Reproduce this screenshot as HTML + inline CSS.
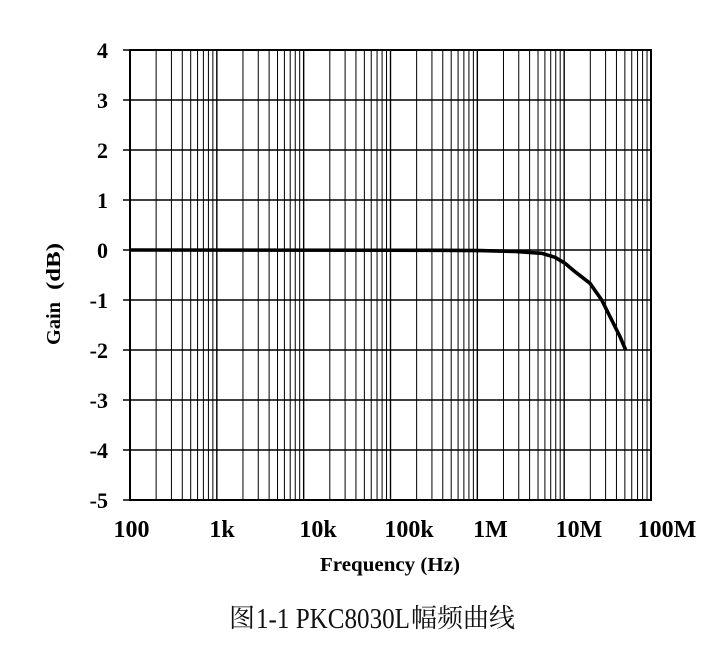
<!DOCTYPE html>
<html>
<head>
<meta charset="utf-8">
<style>
html,body{margin:0;padding:0;background:#fff;}
svg{display:block;}
</style>
</head>
<body>
<svg width="716" height="648" viewBox="0 0 716 648" xmlns="http://www.w3.org/2000/svg">
<rect x="0" y="0" width="716" height="648" fill="#fff"/>
<g stroke="#000" stroke-width="1" fill="none">
<path d="M156.14,50V500M171.43,50V500M182.28,50V500M190.69,50V500M197.57,50V500M203.38,50V500M208.42,50V500M212.86,50V500
M242.97,50V500M258.26,50V500M269.11,50V500M277.52,50V500M284.40,50V500M290.21,50V500M295.25,50V500M299.69,50V500
M329.81,50V500M345.10,50V500M355.95,50V500M364.36,50V500M371.24,50V500M377.05,50V500M382.09,50V500M386.53,50V500
M416.64,50V500M431.93,50V500M442.78,50V500M451.19,50V500M458.07,50V500M463.88,50V500M468.92,50V500M473.36,50V500
M503.47,50V500M518.76,50V500M529.61,50V500M538.02,50V500M544.90,50V500M550.71,50V500M555.75,50V500M560.19,50V500
M590.31,50V500M605.60,50V500M616.45,50V500M624.86,50V500M631.74,50V500M637.55,50V500M642.59,50V500M647.03,50V500"/>
</g>
<g stroke="#000" stroke-width="1.4" fill="none">
<path d="M216.83,50V500M303.67,50V500M390.5,50V500M477.33,50V500M564.17,50V500"/>
<path d="M130,100H651M130,150H651M130,200H651M130,250H651M130,300H651M130,350H651M130,400H651M130,450H651"/>
<path d="M123,50H130M123,100H130M123,150H130M123,200H130M123,250H130M123,300H130M123,350H130M123,400H130M123,450H130M123,500H130"/>
</g>
<rect x="130" y="50" width="521" height="450" fill="none" stroke="#000" stroke-width="2"/>
<path d="M130,250 L440,250.3 L480,250.6 L515,251.5 L541.7,253.3 L555,257.3 L565,263.3 L575,271.7 L590,283.3 L601.7,300 L611.7,320 L620,336.7 L625.7,350" fill="none" stroke="#000" stroke-width="3.6" stroke-linejoin="round"/>
<g font-family="'Liberation Serif', serif" font-weight="bold" font-size="22" fill="#000" text-anchor="end">
<text x="108" y="58">4</text>
<text x="108" y="108">3</text>
<text x="108" y="158">2</text>
<text x="108" y="208">1</text>
<text x="108" y="258">0</text>
<text x="108" y="308">-1</text>
<text x="108" y="358">-2</text>
<text x="108" y="408">-3</text>
<text x="108" y="458">-4</text>
<text x="108" y="508">-5</text>
</g>
<g font-family="'Liberation Serif', serif" font-weight="bold" font-size="24" fill="#000" text-anchor="middle">
<text x="131.5" y="537">100</text>
<text x="222" y="537">1k</text>
<text x="318" y="537">10k</text>
<text x="409" y="537">100k</text>
<text x="490.5" y="537">1M</text>
<text x="579" y="537">10M</text>
<text x="667" y="537">100M</text>
</g>
<text x="320" y="571" font-family="'Liberation Serif', serif" font-weight="bold" font-size="20" textLength="140" lengthAdjust="spacingAndGlyphs">Frequency (Hz)</text>
<g font-family="'Liberation Serif', serif" font-weight="bold" font-size="20" fill="#000">
<text transform="translate(60,345) rotate(-90)" x="0" y="0" textLength="43" lengthAdjust="spacingAndGlyphs">Gain</text>
<text transform="translate(60,290) rotate(-90)" x="0" y="0" textLength="47" lengthAdjust="spacingAndGlyphs">(dB)</text>
</g>
<g fill="#111">
<text x="229" y="627" font-family="'Noto Serif CJK SC', 'Noto Sans CJK SC', serif" font-size="26">图</text>
<text x="256" y="628" font-family="'Liberation Serif', serif" font-size="29" textLength="154" lengthAdjust="spacingAndGlyphs">1-1 PKC8030L</text>
<text x="411" y="627" font-family="'Noto Serif CJK SC', 'Noto Sans CJK SC', serif" font-size="26" textLength="104" lengthAdjust="spacingAndGlyphs">幅频曲线</text>
</g>
</svg>
</body>
</html>
